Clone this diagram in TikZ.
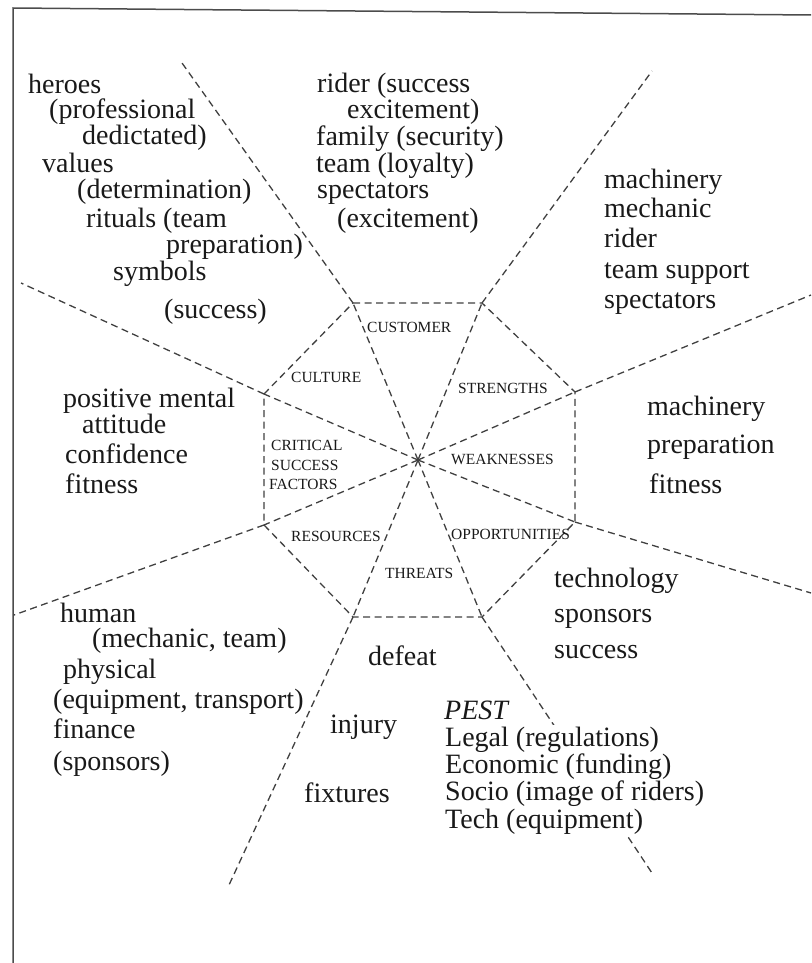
\documentclass[tikz,border=0pt]{standalone}
\usepackage{fontspec}
\setmainfont{Liberation Serif}
\begin{document}
\begin{tikzpicture}[x=1pt,y=-1pt,
  txt/.style={anchor=base west,inner sep=0pt,font=\fontsize{28}{30}\selectfont,text=black!90},
  lbl/.style={anchor=base west,inner sep=0pt,font=\fontsize{15.5}{17}\selectfont,text=black!90},
  blank/.style={fill=white,inner xsep=1pt,inner ysep=1.5pt},
  spoke/.style={draw=black!75,line width=1.3pt,dash pattern=on 7pt off 4.5pt},
  frame/.style={draw=black!70,line width=1.5pt}]
\useasboundingbox (0,0) rectangle (811,963);
% frame
\coordinate (ftl) at (13,8);
\coordinate (ftr) at (811,15);
\coordinate (fbl) at (13,963);
\draw[frame] (fbl) -- (ftl) -- (ftr);
% centre and octagon vertices
\coordinate (c) at (418,460);
\coordinate (v1) at (353,303);
\coordinate (v2) at (482,303);
\coordinate (v3) at (575,392);
\coordinate (v4) at (575,522);
\coordinate (v5) at (482,617);
\coordinate (v6) at (353,617);
\coordinate (v7) at (264,525);
\coordinate (v8) at (264,394);
% outer ends
\coordinate (o1) at (182,63);
\coordinate (o2) at (652,71);
\coordinate (o3) at (811,295);
\coordinate (o4) at (811,593);
\coordinate (o5) at (652,873);
\coordinate (o6) at (229,885);
\coordinate (o7) at (14,615);
\coordinate (o8) at (21,283);
% octagon
\draw[spoke] (v1) -- (v2) -- (v3) -- (v4) -- (v5) -- (v6) -- (v7) -- (v8) -- cycle;
% inner spokes
\foreach \v in {v1,v2,v3,v4,v5,v6,v7,v8} \draw[spoke] (c) -- (\v);
% outer spokes
\draw[spoke] (v1) -- (o1);
\draw[spoke] (v2) -- (o2);
\draw[spoke] (v3) -- (o3);
\draw[spoke] (v4) -- (o4);
\draw[spoke] (v5) -- (o5);
\draw[spoke] (v6) -- (o6);
\draw[spoke] (v7) -- (o7);
\draw[spoke] (v8) -- (o8);
% octagon labels
\node[lbl] (lcust) at (367,332) {CUSTOMER};
\node[lbl] (lcult) at (291,382) {CULTURE};
\node[lbl] (lstr) at (458,393) {STRENGTHS};
\node[lbl] (lcsf1) at (271,450) {CRITICAL};
\node[lbl] (lcsf2) at (271,470) {SUCCESS};
\node[lbl] (lcsf3) at (269,489) {FACTORS};
\node[lbl] (lweak) at (451,464) {WEAKNESSES};
\node[lbl] (lres) at (291,541) {RESOURCES};
\node[lbl] (lopp) at (451,539) {OPPORTUNITIES};
\node[lbl] (lthr) at (385,578) {THREATS};
% culture sector
\node[txt] (cu1) at (28,94) {heroes};
\node[txt] (cu2) at (49,119) {(professional};
\node[txt] (cu3) at (82,144) {dedictated)};
\node[txt] (cu4) at (42,172) {values};
\node[txt] (cu5) at (77,198) {(determination)};
\node[txt] (cu6) at (86,227) {rituals (team};
\node[txt] (cu7) at (166,253) {preparation)};
\node[txt] (cu8) at (113,280) {symbols};
\node[txt] (cu9) at (164,318) {(success)};
% customer sector
\node[txt] (cs1) at (317,93) {rider (success};
\node[txt] (cs2) at (347,119) {excitement)};
\node[txt] (cs3) at (316,145) {family (security)};
\node[txt] (cs4) at (316,172) {team (loyalty)};
\node[txt] (cs5) at (317,198) {spectators};
\node[txt] (cs6) at (337,227) {(excitement)};
% strengths sector
\node[txt] (st1) at (604,188) {machinery};
\node[txt] (st2) at (604,217) {mechanic};
\node[txt] (st3) at (604,247) {rider};
\node[txt] (st4) at (604,278) {team support};
\node[txt] (st5) at (604,308) {spectators};
% weaknesses sector
\node[txt] (wk1) at (647,415) {machinery};
\node[txt] (wk2) at (647,453) {preparation};
\node[txt] (wk3) at (649,493) {fitness};
% critical success factors sector
\node[txt] (cf1) at (63,407) {positive mental};
\node[txt] (cf2) at (82,433) {attitude};
\node[txt] (cf3) at (65,463) {confidence};
\node[txt] (cf4) at (65,493) {fitness};
% resources sector
\node[txt] (rs1) at (60,622) {human};
\node[txt] (rs2) at (92,647) {(mechanic, team)};
\node[txt] (rs3) at (63,678) {physical};
\node[txt] (rs4) at (53,708) {(equipment, transport)};
\node[txt] (rs5) at (53,738) {finance};
\node[txt] (rs6) at (53,770) {(sponsors)};
% threats sector
\node[txt] (th1) at (368,665) {defeat};
\node[txt] (th2) at (330,733) {injury};
\node[txt] (th3) at (304,802) {fixtures};
% opportunities sector
\node[txt] (op1) at (554,587) {technology};
\node[txt] (op2) at (554,622) {sponsors};
\node[txt] (op3) at (554,658) {success};
% PEST (masks the spoke behind it)
\node[txt,font=\fontsize{28}{30}\selectfont\itshape] (ps0) at (444,719) {PEST};
\node[txt,blank] (ps1) at (444,746) {Legal (regulations)};
\node[txt,blank] (ps2) at (444,773) {Economic (funding)};
\node[txt,blank] (ps3) at (444,800) {Socio (image of riders)};
\node[txt,blank] (ps4) at (444,828) {Tech (equipment)};
\end{tikzpicture}
\end{document}
